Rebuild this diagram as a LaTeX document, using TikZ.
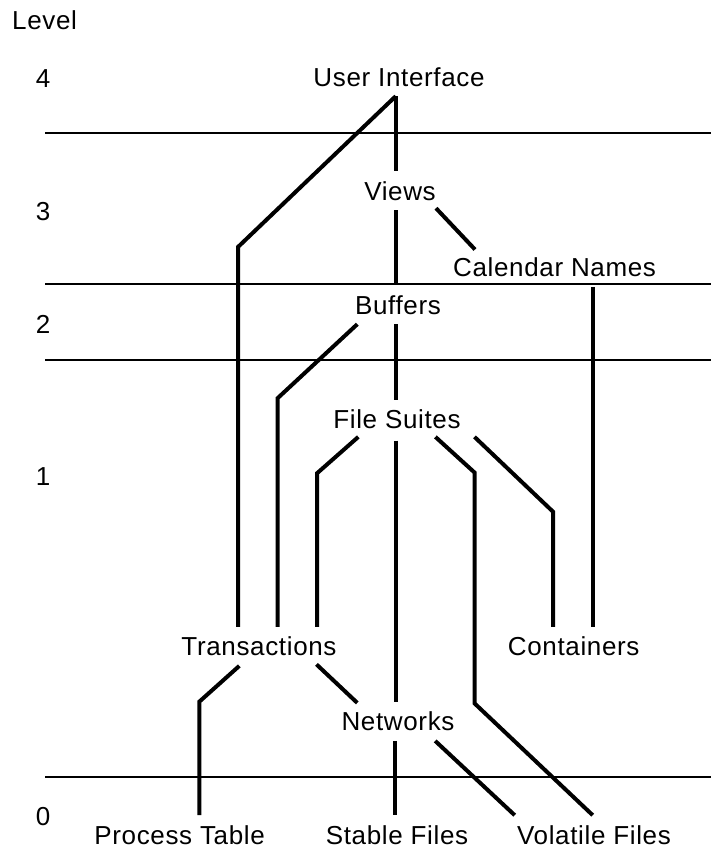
\documentclass[tikz,border=0pt]{standalone}
\usepackage{fontspec}
\setmainfont{Liberation Sans}[LetterSpace=2.5]
\tikzset{
  lbl/.style={inner xsep=0pt, inner ysep=10pt, text height=18.6pt, text depth=0pt,
    font=\fontsize{26}{30}\selectfont, anchor=base},
  lvlnum/.style={inner sep=0pt, font=\fontsize{26}{30}\selectfont, anchor=base},
  conn/.style={line width=4pt, line cap=butt, line join=miter},
  lvl/.style={line width=2.2pt},
}
\begin{document}
\begin{tikzpicture}[x=1pt,y=-1pt]
\useasboundingbox (0,0) rectangle (711,854);
\fill[white] (0,0) rectangle (711,854);
% level separators
\draw[lvl] (45,133) -- (711,133);
\draw[lvl] (45,284) -- (711,284);
\draw[lvl] (45,360) -- (711,360);
\draw[lvl] (45,777.3) -- (711,777.3);
% level labels
\node[lvlnum, anchor=base west] (level) at (12,29.5) {Level};
\node[lvlnum] (l4) at (43,87) {4};
\node[lvlnum] (l3) at (43,220) {3};
\node[lvlnum] (l2) at (43,333) {2};
\node[lvlnum] (l1) at (43,485) {1};
\node[lvlnum] (l0) at (43,825.5) {0};
% modules
\node[lbl] (ui) at (399,86) {User Interface};
\node[lbl] (views) at (400,200) {Views};
\node[lbl] (cal) at (554.6,276.7) {Calendar Names};
\node[lbl] (buffers) at (398,314) {Buffers};
\node[lbl] (fs) at (397,428.3) {File Suites};
\node[lbl] (trans) at (259,655.7) {Transactions};
\node[lbl] (cont) at (573.7,655.7) {Containers};
\node[lbl] (net) at (398,730.7) {Networks};
\node[lbl] (pt) at (179.6,844) {Process Table};
\node[lbl] (sf) at (397,844) {Stable Files};
\node[lbl] (vf) at (594,844) {Volatile Files};
% connectors
\draw[conn] ([xshift=-3.3pt]ui.south) -- ([xshift=-4.3pt]views.north);
\draw[conn] ([xshift=-3.3pt]ui.south) -- (238,247) -- ([xshift=-21pt]trans.north);
\draw[conn] ([xshift=-4.3pt]views.south) -- ([xshift=-2.3pt]buffers.north);
\draw[conn] ([xshift=36pt,yshift=2pt]views.south) -- ([xshift=-79.6pt,yshift=-1.6pt]cal.north);
\draw[conn] ([xshift=37.9pt]cal.south) -- ([xshift=18.8pt]cont.north);
\draw[conn] ([xshift=-40.7pt]buffers.south) -- (277.5,398.3) -- ([xshift=18.5pt]trans.north);
\draw[conn] ([xshift=-2.3pt]buffers.south) -- ([xshift=-1.3pt]fs.north);
\draw[conn] ([xshift=-38.7pt,yshift=1.6pt]fs.south) -- (317,473.3) -- ([xshift=58pt]trans.north);
\draw[conn] ([xshift=-1.5pt,yshift=-2pt]fs.south) -- ([xshift=-2.5pt]net.north);
\draw[conn] ([xshift=38.4pt,yshift=1.6pt]fs.south) -- (474.5,472.5) -- (474.5,703.3) -- ([xshift=-1.3pt]vf.north);
\draw[conn] ([xshift=77.5pt,yshift=1.6pt]fs.south) -- (553,511.7) -- ([xshift=-20.7pt]cont.north);
\draw[conn] ([xshift=-19.7pt]trans.south) -- (199.3,701.7) -- ([xshift=19.7pt]pt.north);
\draw[conn] ([xshift=57.5pt,yshift=1.5pt]trans.south) -- ([xshift=-40.7pt,yshift=-1pt]net.north);
\draw[conn] ([xshift=-3pt]net.south) -- ([xshift=-2pt]sf.north);
\draw[conn] ([xshift=37.2pt]net.south) -- ([xshift=-79.3pt]vf.north);
\end{tikzpicture}
\end{document}
